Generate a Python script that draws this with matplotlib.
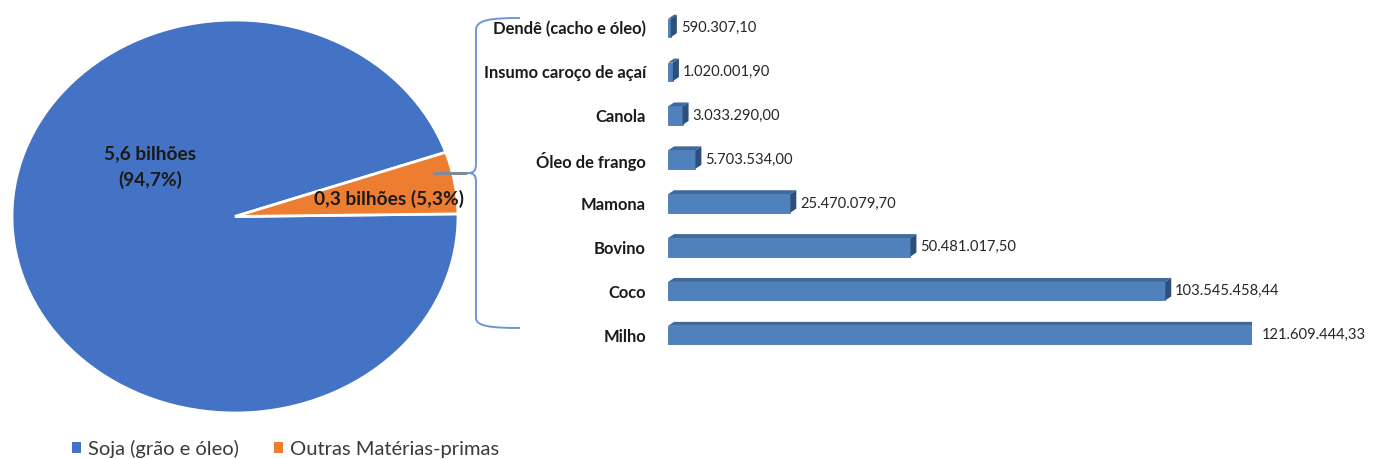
import matplotlib
matplotlib.use("Agg")
import matplotlib.pyplot as plt
from matplotlib.path import Path
from matplotlib.patches import PathPatch, Polygon, Patch

plt.rcParams['font.family'] = ['Lato', 'DejaVu Sans']

# ---- data ----
pie_labels = ["Soja (grão e óleo)", "Outras Matérias-primas"]
pie_values = [5.6, 0.3]
pie_pct = [94.7, 5.3]
pie_text = ["5,6 bilhões\n(94,7%)", "0,3 bilhões (5,3%)"]
pie_colors = ["#4472C4", "#ED7D31"]

categories = ["Dendê (cacho e óleo)", "Insumo caroço de açaí", "Canola", "Óleo de frango",
              "Mamona", "Bovino", "Coco", "Milho"]
values = [590307.10, 1020001.90, 3033290.00, 5703534.00,
          25470079.70, 50481017.50, 103545458.44, 121609444.33]
value_labels = ["590.307,10", "1.020.001,90", "3.033.290,00", "5.703.534,00",
                "25.470.079,70", "50.481.017,50", "103.545.458,44", "121.609.444,33"]

W, H = 1376, 459
fig = plt.figure(figsize=(W / 100, H / 100), dpi=100)

def fx(px):
    return px / W

def fy(py):
    return 1 - py / H

# ---- pie (elliptical) ----
pl, pr, pt, pb = 12, 458, 20, 413
axp = fig.add_axes([fx(pl), fy(pb), fx(pr - pl), (pb - pt) / H])
start = pie_pct[1] / 100 * 360
wedges, _ = axp.pie(pie_values, colors=pie_colors, startangle=start, counterclock=True,
                    wedgeprops=dict(edgecolor="white", linewidth=2.0))
axp.set_aspect("auto")
axp.set_xlim(-1, 1)
axp.set_ylim(-1, 1)
axp.axis("off")
axp.text(-0.38, 0.25, pie_text[0], ha="center", va="center", fontsize=13.8,
         fontweight="bold", color="#1a1a1a", linespacing=1.6)
axp.text(0.69, 0.09, pie_text[1], ha="center", va="center", fontsize=13.8,
         fontweight="bold", color="#1a1a1a")

# ---- bars ----
bl, br, bt, bb = 668, 1252, 6, 357
axb = fig.add_axes([fx(bl), fy(bb), fx(br - bl), (bb - bt) / H])
ypos = list(range(len(categories)))
bh = 0.42
axb.barh(ypos, values, height=bh, color="#4F81BD", edgecolor="#4A78B0", linewidth=0.6, zorder=3)
axb.set_xlim(0, max(values))
axb.set_ylim(len(categories) - 0.5, -0.5)
# 3D depth in data units derived from axes scale
xr = max(values) / (br - bl)          # data per px
yr = len(categories) / (bb - bt)       # data per px
dx, dy = 6 * xr, 4 * yr
for y, v in zip(ypos, values):
    top = y - bh / 2
    bot = y + bh / 2
    axb.add_patch(Polygon([(0, top), (v, top), (v + dx, top - dy), (dx, top - dy)],
                          closed=True, facecolor="#3F6A9E", edgecolor="none", zorder=2))
    axb.add_patch(Polygon([(v, top), (v + dx, top - dy), (v + dx, bot - dy), (v, bot)],
                          closed=True, facecolor="#2C4F7C", edgecolor="none", zorder=4))
for y, v, lab in zip(ypos, values, value_labels):
    axb.text(v + dx + 4 * xr, y, lab, ha="left", va="center", fontsize=10.6,
             color="#262626", clip_on=False)
axb.set_yticks(ypos)
axb.set_yticklabels(categories, fontsize=11.9, fontweight="bold", color="#1a1a1a")
axb.tick_params(axis="y", length=0, pad=16)
axb.set_xticks([])
for s in axb.spines.values():
    s.set_visible(False)

# ---- brace overlay ----
axo = fig.add_axes([0, 0, 1, 1], zorder=5)
axo.set_xlim(0, W)
axo.set_ylim(H, 0)
axo.axis("off")
axo.patch.set_alpha(0)
bx, tipx, ymid = 476, 467, 173
verts = [(520, 18), (490, 18), (bx, 20), (bx, 30),
         (bx, ymid - 10),
         (bx, ymid - 2), (bx - 2, ymid), (tipx, ymid),
         (bx - 2, ymid), (bx, ymid + 2), (bx, ymid + 10),
         (bx, 318),
         (bx, 326), (490, 328), (520, 328)]
codes = [Path.MOVETO, Path.CURVE4, Path.CURVE4, Path.CURVE4,
         Path.LINETO,
         Path.CURVE4, Path.CURVE4, Path.CURVE4,
         Path.CURVE4, Path.CURVE4, Path.CURVE4,
         Path.LINETO,
         Path.CURVE4, Path.CURVE4, Path.CURVE4]
axo.add_patch(PathPatch(Path(verts, codes), facecolor="none", edgecolor="#6C97D4", linewidth=1.4))
axo.plot([433, tipx], [ymid, ymid], color="#7F8B99", linewidth=2.2, solid_capstyle="butt")

# ---- legend ----
handles = [Patch(facecolor=c, edgecolor="none") for c in pie_colors]
fig.legend(handles, pie_labels, loc="lower left", bbox_to_anchor=(fx(64), fy(466)),
           ncol=2, frameon=False, fontsize=14.5, handlelength=0.45, handleheight=0.45,
           handletextpad=0.35, columnspacing=1.75, labelcolor="#3a3a3a", borderaxespad=0.0)

fig.savefig("out.png", dpi=100, facecolor="white")
